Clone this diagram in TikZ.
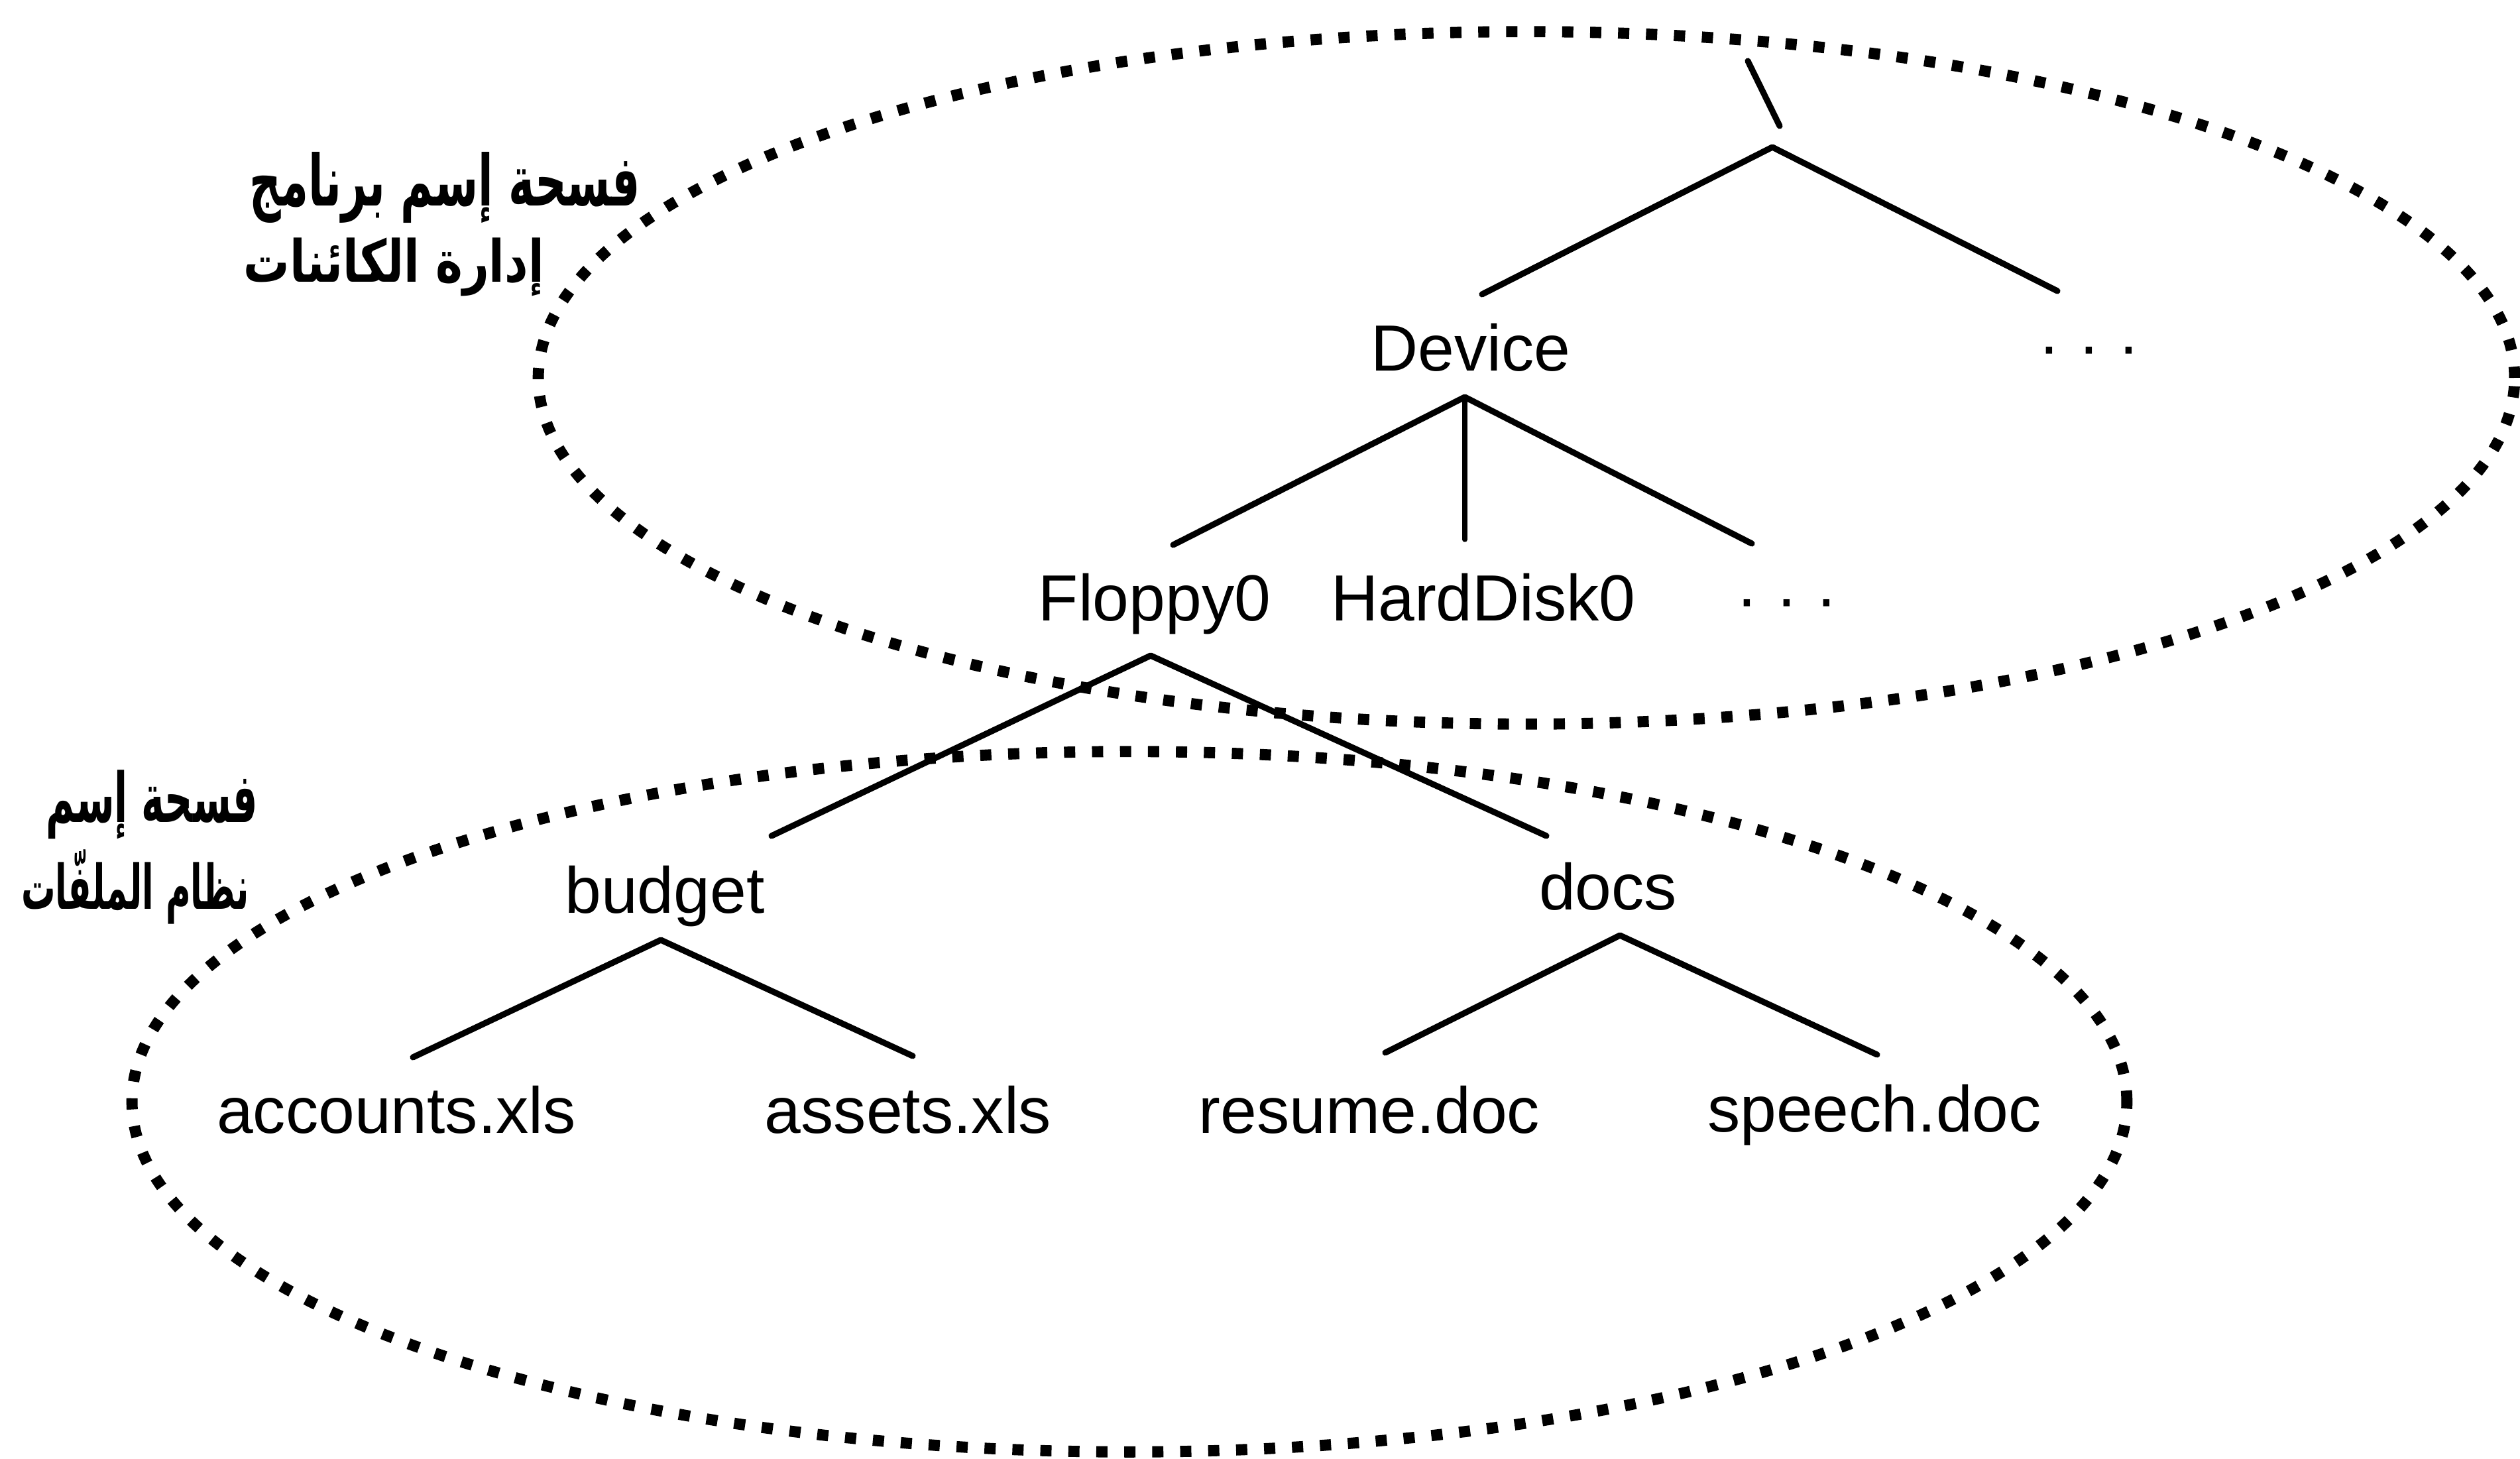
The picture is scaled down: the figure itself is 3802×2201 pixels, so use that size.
\documentclass[tikz,border=0pt]{standalone}
\usepackage{fontspec}
\usepackage{graphicx}
\setmainfont{Liberation Sans}
\newfontfamily\arabicfont[Script=Arabic]{DejaVu Sans}
\TeXXeTstate=1
\begin{document}
\begin{tikzpicture}[x=0.01cm,y=-0.01cm,
  lbl/.style={font=\fontsize{28pt}{32pt}\selectfont, inner sep=0pt, anchor=base},
  branch/.style={line width=2.6pt, line cap=round, line join=round},
  thinbranch/.style={line width=2.1pt, line cap=round},
  scopeline/.style={line width=4.8pt, dash pattern=on 4.8pt off 7.2pt},
  arlbl/.style={inner sep=0pt}]
\useasboundingbox (0,0) rectangle (3802,2201);

% name-space ellipses
\draw[scopeline] (2303,570) ellipse [x radius=14.9cm, y radius=5.22cm];
\draw[scopeline] (1704,1662) ellipse [x radius=15.04cm, y radius=5.28cm];

% text nodes
\node[lbl] (device) at (2219,560) {Device};
\node[lbl] (rootdots) at (3152,556) {· · ·};
\node[lbl] (floppy) at (1742,937) {Floppy0};
\node[lbl] (hdisk) at (2238,937) {HardDisk0};
\node[lbl] (fdots) at (2696,937) {· · ·};
\node[lbl] (budget) at (1003,1377) {budget};
\node[lbl] (docs) at (2426,1373) {docs};
\node[lbl] (accounts) at (598,1709) {accounts.xls};
\node[lbl] (assets) at (1370,1709) {assets.xls};
\node[lbl] (resume) at (2066,1709) {resume.doc};
\node[lbl] (speech) at (2828,1707) {speech.doc};

% Arabic labels
\node[arlbl, anchor=south west] (omlabA) at (376,337)
  {\resizebox*{5.89cm}{1.07cm}{\arabicfont\bfseries\beginR فسحة إسم برنامج\endR}};
\node[arlbl, anchor=south west] (omlabB) at (367,448)
  {\resizebox*{4.53cm}{0.88cm}{\arabicfont\bfseries\beginR إدارة الكائنات\endR}};
\node[arlbl, anchor=south east] (fslabA) at (390,1267)
  {\resizebox*{3.2cm}{1.04cm}{\arabicfont\bfseries\beginR فسحة إسم\endR}};
\node[arlbl, anchor=south east] (fslabB) at (377,1395)
  {\resizebox*{3.44cm}{1.12cm}{\arabicfont\bfseries\beginR نظام الملفّات\endR}};

% branch points
\coordinate (stubtop) at (2637,92);
\coordinate (stubbot) at (2685,190);
\coordinate (root) at (2674,222);
\coordinate (device-up) at (2236,444);
\coordinate (rootdots-up) at (3104,439);
\coordinate (device-down) at (2210,599);
\coordinate (floppy-up) at (1770,822);
\coordinate (hdisk-up) at (2210,814);
\coordinate (fdots-up) at (2643,820);
\coordinate (floppy-down) at (1736,989);
\coordinate (budget-up) at (1164,1261);
\coordinate (docs-up) at (2333,1261);
\coordinate (budget-down) at (997,1418);
\coordinate (accounts-up) at (623,1595);
\coordinate (assets-up) at (1377,1593);
\coordinate (docs-down) at (2444,1411);
\coordinate (resume-up) at (2090,1588);
\coordinate (speech-up) at (2832,1591);

% connectors
\draw[branch] (stubtop) -- (stubbot);
\draw[branch] (device-up) -- (root) -- (rootdots-up);
\draw[branch] (floppy-up) -- (device-down) -- (fdots-up);
\draw[thinbranch] (device-down) -- (hdisk-up);
\draw[branch] (budget-up) -- (floppy-down) -- (docs-up);
\draw[branch] (accounts-up) -- (budget-down) -- (assets-up);
\draw[branch] (resume-up) -- (docs-down) -- (speech-up);
\end{tikzpicture}
\end{document}
